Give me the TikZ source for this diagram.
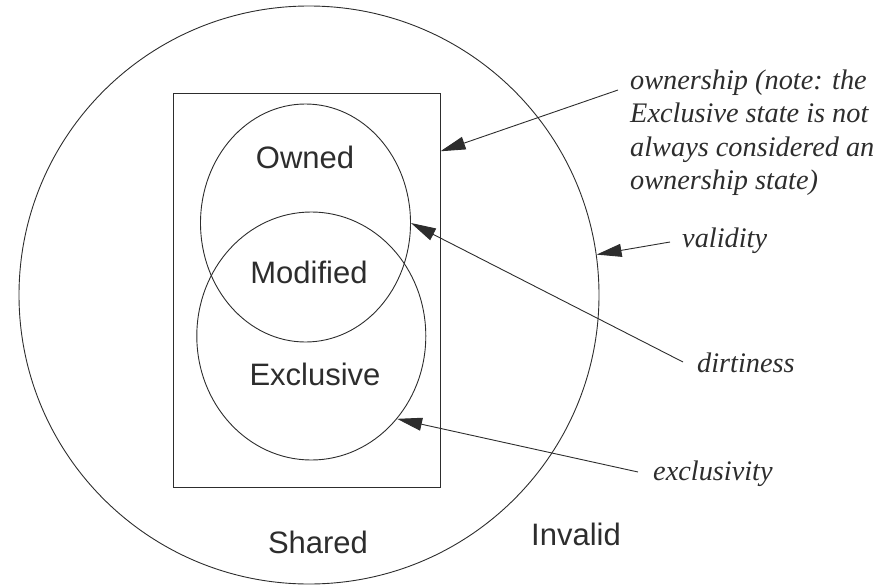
\documentclass[tikz,border=0pt]{standalone}
\usepackage{fontspec}
\setmainfont{Liberation Serif}
\newfontfamily\labelsans{Liberation Sans}
\usetikzlibrary{shapes.geometric,arrows.meta}
\definecolor{ink}{RGB}{45,45,45}
\begin{document}
\begin{tikzpicture}[x=1pt,y=-1pt,
  ink/.style={draw=ink,line width=0.9pt},
  region/.style={ink,ellipse,inner sep=0pt},
  statebox/.style={ink,rectangle,inner sep=0pt},
  statename/.style={text=ink,font=\labelsans\fontsize{31}{36}\selectfont,inner sep=0pt,anchor=base},
  propname/.style={text=ink,font=\fontsize{28.3}{33.5}\selectfont\itshape,inner sep=0pt},
  pointer/.style={ink,-{Triangle[length=25pt,width=13pt]}}]
\useasboundingbox (0,0) rectangle (877,586);

% outer region: valid vs. invalid
\node[region,minimum width=580pt,minimum height=578pt] (valid) at (309,295) {};
% owned / exclusive box
\node[statebox,minimum width=267pt,minimum height=394pt] (box) at (306.5,290) {};
% dirty and exclusive regions
\node[region,minimum width=210pt,minimum height=238pt] (ownedC) at (305.5,223) {};
\node[region,minimum width=229pt,minimum height=248pt] (exclC) at (311.3,336) {};

% state names
\node[statename] (owned) at (305,168) {Owned};
\node[statename] (modified) at (309,283) {Modified};
\node[statename] (exclusive) at (315,385) {Exclusive};
\node[statename] (shared) at (318,553) {Shared};
\node[statename] (invalid) at (576,545) {Invalid};

% property labels
\node[propname,anchor=north west,align=left] (ownership) at (630,69.5)
  {ownership (note: the\\Exclusive state is not\\always considered an\\ownership state)};
\node[propname,anchor=base west] (validity) at (682,247) {validity};
\node[propname,anchor=base west] (dirtiness) at (697,372) {dirtiness};
\node[propname,anchor=base west] (exclusivity) at (653,480) {exclusivity};

% pointers from the labels to the regions
\coordinate (ownTail) at (618,90);
\draw[pointer] (ownTail) -- (box.46.6);
\draw[pointer] ([xshift=-12pt,yshift=5pt]validity.base west) -- (valid.8);
\draw[pointer] ([xshift=-14pt,yshift=10pt]dirtiness.base west) -- (ownedC.east);
\draw[pointer] ([xshift=-15pt,yshift=8pt]exclusivity.base west) -- (exclC.-44);
\end{tikzpicture}
\end{document}
